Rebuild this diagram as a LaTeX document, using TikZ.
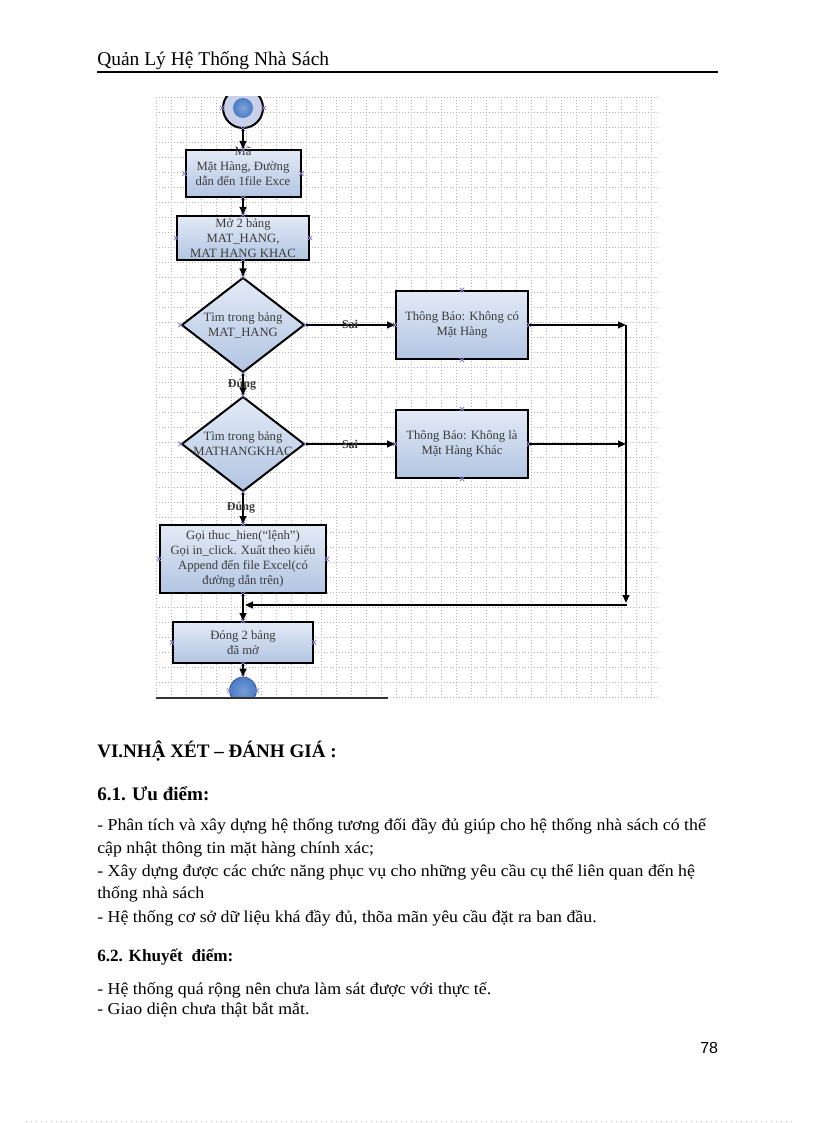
\documentclass[tikz,border=0pt]{standalone}
\usepackage{fontspec}
\setmainfont{Liberation Serif}
\newfontfamily\sansf{Liberation Sans}
\newfontfamily\bodyf[FakeStretch=1.07]{Liberation Serif}
\usetikzlibrary{arrows.meta,shapes.geometric}
\definecolor{boxtop}{HTML}{E3EAF6}
\definecolor{boxbot}{HTML}{B2C5E2}
\definecolor{flowtxt}{HTML}{3A3A3A}
\definecolor{lav}{HTML}{8C7CCB}
\definecolor{gridc}{HTML}{B0B0B0}
\definecolor{dotblue}{HTML}{4A7CC6}
\definecolor{ringc}{HTML}{C9D0EA}
\begin{document}
\begin{tikzpicture}[x=0.75pt,y=-0.75pt,
  fbox/.style={draw=black,line width=1.5pt,top color=boxtop,bottom color=boxbot,
    inner sep=0pt,align=center,text=flowtxt,font=\fontsize{9.5}{11.25}\selectfont},
  fdia/.style={diamond,draw=black,line width=1.5pt,top color=boxtop,bottom color=boxbot,
    inner sep=0pt,minimum width=92.25pt,minimum height=71.25pt},
  ftext/.style={align=center,text=flowtxt,inner sep=0pt,font=\fontsize{9.5}{11.25}\selectfont},
  flab/.style={text=flowtxt,inner sep=0pt,font=\fontsize{9}{11}\selectfont\bfseries},
  conn/.style={line width=1.4pt,-{Triangle[length=6pt,width=5pt]}},
  xm/.pic={\draw[lav,line width=0.6pt] (-2.2,-2.2)--(2.2,2.2) (-2.2,2.2)--(2.2,-2.2);},
  body/.style={anchor=base west,inner sep=0pt,font=\bodyf\fontsize{12.5}{14}\selectfont},
  bhead/.style={anchor=base west,inner sep=0pt,font=\fontsize{14.3}{16}\selectfont\bfseries}
]
\useasboundingbox (0,0) rectangle (816,1123);

% header
\node[anchor=base west,inner sep=0pt,font=\fontsize{14.6}{16}\selectfont] (hdr) at (97,66) {Quản Lý Hệ Thống Nhà Sách};
\draw[line width=0.9pt] (97,72) -- (718,72);

% flowchart area
\begin{scope}
\clip (150,97) rectangle (666,698);
\foreach \gx in {156,171,...,651} \draw[gridc,line width=0.5pt,dash pattern=on 1pt off 1.25pt] (\gx,97) -- (\gx,697);
\foreach \gy in {97,112,...,697} \draw[gridc,line width=0.5pt,dash pattern=on 1pt off 1.25pt] (156,\gy) -- (659,\gy);

% start
\node[circle,draw=black,line width=1.5pt,fill=ringc,minimum size=30pt,inner sep=0pt] (start) at (243,108) {};
\node[circle,inner color=dotblue!70,outer color=dotblue,minimum size=15pt,inner sep=0pt] (startdot) at (243,108) {};

\node[fbox,minimum width=86.25pt,minimum height=35.25pt] (b1) at (243,173.5) {Mặt Hàng, Đường\\dẫn đến 1file Exce};
\node[fbox,minimum width=99pt,minimum height=33pt] (b2) at (243,238) {Mở 2 bảng\\MAT\_HANG,\\MAT HANG KHAC};
\node[fdia] (d1) at (243,325) {};
\node[ftext] (d1t) at (243,325) {Tìm trong bảng\\MAT\_HANG};
\node[fbox,minimum width=99pt,minimum height=51pt] (b3) at (462,325) {Thông Báo: Không có\\Mặt Hàng};
\node[fdia] (d2) at (243,444) {};
\node[ftext] (d2t) at (243,444) {Tìm trong bảng\\MATHANGKHAC};
\node[fbox,minimum width=99pt,minimum height=51pt] (b4) at (462,444) {Thông Báo: Không là\\Mặt Hàng Khác};
\node[fbox,minimum width=124.5pt,minimum height=51pt] (b5) at (243,559) {Gọi thuc\_hien(“lệnh”)\\Gọi in\_click. Xuất theo kiểu\\Append đến file Excel(có\\đường dẫn trên)};
\node[fbox,minimum width=105pt,minimum height=30.75pt] (b6) at (243,642.5) {Đóng 2 bảng\\đã mở};
\node[circle,draw=dotblue!80!black,line width=0.8pt,inner color=dotblue!75,outer color=dotblue,minimum size=20pt,inner sep=0pt] (end) at (243,690.5) {};
\node[ftext] (ma) at (243,151) {Mã};

% connection markers
\foreach \n in {b1,b2,b3,b4,b5,b6,d1,d2} {
  \foreach \a in {north,south,east,west} \pic at (\n.\a) {xm};
}
\foreach \a in {west,east,south} \pic at (start.\a) {xm};
\foreach \a in {west,east,north} \pic at (end.\a) {xm};

% connectors
\coordinate (j1) at (626,325);
\coordinate (j2) at (626,444);
\coordinate (j3) at (626,603);
\coordinate (j4) at (627,605);
\coordinate (m) at (245,605);
\draw[conn] (start) -- (b1);
\draw[conn] (b1) -- (b2);
\draw[conn] (b2) -- (d1);
\draw[conn] (d1) -- (d2);
\draw[conn] (d2) -- (b5);
\draw[conn] (d1.east) -- (b3.west);
\draw[conn] (d2.east) -- (b4.west);
\draw[conn] (b3.east) -- (j1);
\draw[conn] (b4.east) -- (j2);
\draw[conn] (j1) -- (j3);
\draw[conn] (j4) -- (m);
\draw[conn] (b5) -- (b6);
\draw[conn] (b6) -- (end);
\node[flab] (s1) at (350,324) {Sai};
\node[flab] (s2) at (350,444) {Sai};
\node[flab] (dg1) at (242,385) {Đúng};
\node[flab] (dg2) at (241,508) {Đúng};
\end{scope}
\draw[line width=1.2pt,black!80] (156,698) -- (388,698);

% text
\node[bhead] (h1) at (97,757) {VI.NHẬ XÉT – ĐÁNH GIÁ :};
\node[bhead] (h2) at (97,800) {6.1. Ưu điểm:};
\node[body] (l1) at (97,830) {- Phân tích và xây  dựng hệ thống tương đối đầy đủ giúp  cho hệ thống nhà sách có thể};
\node[body] (l2) at (97,853) {cập nhật  thông tin mặt hàng  chính xác;};
\node[body] (l3) at (97,876) {- Xây dựng được các chức năng  phục vụ cho những yêu cầu cụ thể liên quan đến hệ};
\node[body] (l4) at (97,898) {thống nhà sách};
\node[body] (l5) at (97,922) {- Hệ thống cơ sở dữ liệu khá đầy đủ, thõa mãn yêu cầu đặt ra ban đầu.};
\node[anchor=base west,inner sep=0pt,font=\fontsize{12.85}{14}\selectfont\bfseries] (h3) at (97,961) {6.2. Khuyết\ \ điểm:};
\node[body] (l6) at (97,994) {- Hệ thống quá rộng nên chưa làm sát được với thực tế.};
\node[body] (l7) at (97,1014) {- Giao diện chưa thật bắt mắt.};
\node[anchor=base west,inner sep=0pt,font=\sansf\fontsize{12}{14}\selectfont] (pg) at (700,1053) {78};
\draw[gray!50,line width=0.5pt,dash pattern=on 0.75pt off 3pt] (26,1121) -- (792,1121);
\end{tikzpicture}
\end{document}
